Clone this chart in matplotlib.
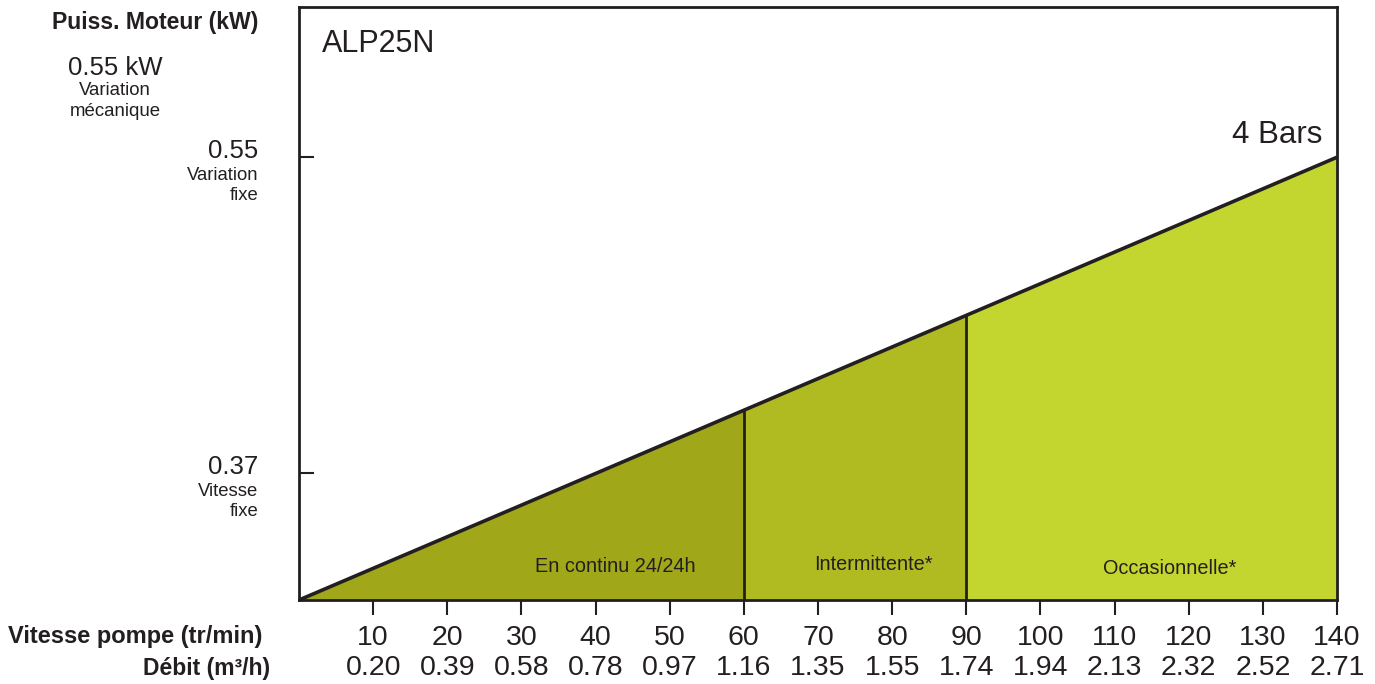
import matplotlib
matplotlib.use("Agg")
import matplotlib.pyplot as plt

plt.rcParams['font.family'] = ['Liberation Sans', 'DejaVu Sans']

# ---- data ----
speed_ticks = [10, 20, 30, 40, 50, 60, 70, 80, 90, 100, 110, 120, 130, 140]
debit_labels = ["0.20", "0.39", "0.58", "0.78", "0.97", "1.16", "1.35",
                "1.55", "1.74", "1.94", "2.13", "2.32", "2.52", "2.71"]
curve_speed = [0, 60, 90, 140]          # tr/min
curve_power = [0.298, 0.406, 0.460, 0.55]  # kW (4 Bars)
zone_names = ["En continu 24/24h", "Intermittente*", "Occasionnelle*"]
zone_colors = ["#a0a719", "#b0bb21", "#c3d62f"]
power_ticks = [0.55, 0.37]
power_tick_notes = ["Variation\nfixe", "Vitesse\nfixe"]
y_min, y_max = 0.298, 0.6355

fig = plt.figure(figsize=(13.75, 6.84), dpi=100)
ax = fig.add_axes([299/1375, 84/684, (1337-299)/1375, (600-7)/684])
ax.set_xlim(0, 140)
ax.set_ylim(y_min, y_max)

# zones
for i in range(3):
    xs = curve_speed[i:i+2]
    ys = curve_power[i:i+2]
    ax.fill_between(xs, y_min, ys, color=zone_colors[i], lw=0, zorder=1)
ax.plot(curve_speed, curve_power, color="#231f20", lw=2.6, zorder=3,
        solid_capstyle='butt', clip_on=False)
ax.vlines(curve_speed[1:3], y_min, curve_power[1:3], color="#231f20", lw=2, zorder=3)

def ft(x, y, s, **kw):
    fig.text(x/1375, 1-y/684, s, color="#231f20", **kw)

# zone labels
for name, xp, yp in zip(zone_names, [615, 873, 1170], [566, 564, 568]):
    ft(xp, yp, name, ha='center', va='center', fontsize=14.3)

for sp in ax.spines.values():
    sp.set_linewidth(2)
    sp.set_color("#231f20")

ax.set_xticks(speed_ticks)
ax.set_xticklabels([str(v) for v in speed_ticks], fontsize=20.5, color="#231f20")
ax.tick_params(axis='x', direction='out', length=11, width=1.5, pad=7, colors="#231f20")
ax.set_yticks(power_ticks)
ax.set_yticklabels([])
ax.tick_params(axis='y', direction='in', length=11, width=1.5, colors="#231f20")

for x, lab in zip(speed_ticks, debit_labels):
    ax.annotate(lab, xy=(x, 0), xycoords=('data', 'axes fraction'),
                xytext=(0, -68/1.389), textcoords='offset points',
                ha='center', va='center', fontsize=20.5, color="#231f20")

# y tick texts
for v, note in zip(power_ticks, power_tick_notes):
    ax.annotate(f"{v:.2f}", xy=(0, v), xycoords=('axes fraction', 'data'),
                xytext=(-41/1.389, 6/1.389), textcoords='offset points',
                ha='right', va='center', fontsize=18.5, color="#231f20")
    ax.annotate(note, xy=(0, v), xycoords=('axes fraction', 'data'),
                xytext=(-41/1.389, -28/1.389), textcoords='offset points',
                ha='right', va='center', fontsize=13.3, color="#231f20", linespacing=1.25)

ft(258, 22, "Puiss. Moteur (kW)", ha='right', va='center', fontsize=16.6, fontweight='bold')
ft(115, 68, "0.55 kW", ha='center', va='center', fontsize=18.5)
ft(115, 101, "Variation\nmécanique", ha='center', va='center', fontsize=13.4, linespacing=1.25)
ft(262, 636, "Vitesse pompe (tr/min)", ha='right', va='center', fontsize=17, fontweight='bold')
ft(270, 668, "Débit (m³/h)", ha='right', va='center', fontsize=16.5, fontweight='bold')
ft(322, 44, "ALP25N", ha='left', va='center', fontsize=22)
ft(1322, 135, "4 Bars", ha='right', va='center', fontsize=22.5)

fig.savefig("out.png", dpi=100)
